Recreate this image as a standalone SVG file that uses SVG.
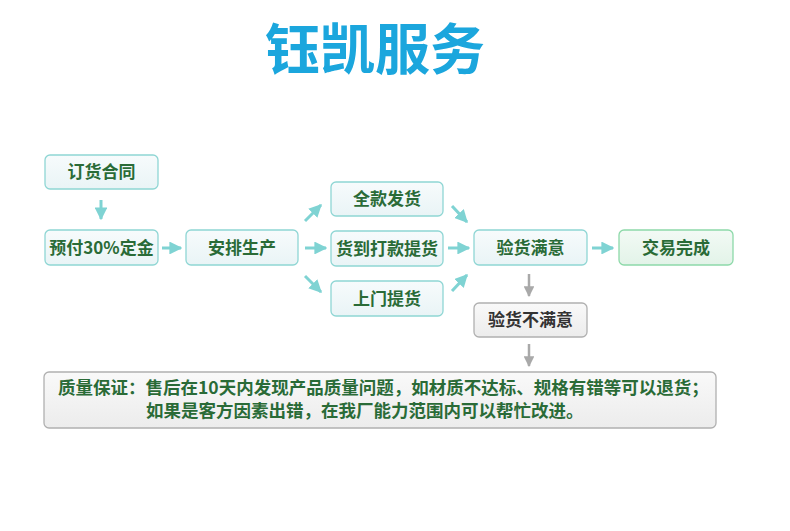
<svg xmlns="http://www.w3.org/2000/svg" width="790" height="531" viewBox="0 0 790 531">
<defs>
<linearGradient id="gb" x1="0" y1="0" x2="0" y2="1"><stop offset="0" stop-color="#f7fbfc"/><stop offset="1" stop-color="#e9f4f6"/></linearGradient>
<linearGradient id="gg" x1="0" y1="0" x2="0" y2="1"><stop offset="0" stop-color="#f3faf5"/><stop offset="1" stop-color="#e2f3e8"/></linearGradient>
<linearGradient id="gy" x1="0" y1="0" x2="0" y2="1"><stop offset="0" stop-color="#f9f9f9"/><stop offset="1" stop-color="#ececec"/></linearGradient>
<marker id="ah" viewBox="0 0 10 10" refX="9" refY="5" markerWidth="4.3" markerHeight="4.3" orient="auto" markerUnits="strokeWidth"><path d="M0,0 L10,5 L0,10 z" fill="#7fd3d3"/></marker>
<marker id="ahg" viewBox="0 0 10 10" refX="9" refY="5" markerWidth="4.3" markerHeight="4.3" orient="auto" markerUnits="strokeWidth"><path d="M0,0 L10,5 L0,10 z" fill="#a9a9a9"/></marker>
</defs>
<style>
.b{fill:url(#gb);stroke:#8fd6d4;stroke-width:1.3}
.g{fill:url(#gg);stroke:#8dd9a9;stroke-width:1.3}
.y{fill:url(#gy);stroke:#b0b0b0;stroke-width:1.3}
.t{font-family:"Noto Sans CJK SC","Noto Sans",sans-serif;font-weight:bold;font-size:17px;fill:#2a6b37;text-anchor:middle}
.tg{fill:#333333}
.q{font-family:"Noto Sans CJK SC","Noto Sans",sans-serif;font-weight:bold;font-size:17.5px;fill:#2a6b37}
.c{stroke:#7fd3d3;stroke-width:3;fill:none;marker-end:url(#ah)}
.cg{stroke:#a9a9a9;stroke-width:2.5;fill:none;marker-end:url(#ahg)}
</style>
<rect width="790" height="531" fill="#ffffff"/>
<text x="375" y="69" font-family="'Noto Sans CJK SC','Noto Sans',sans-serif" font-weight="bold" font-size="55" fill="#1ba6dd" text-anchor="middle">钰凯服务</text>

<g id="connectors">
<line class="c" x1="101" y1="200" x2="101" y2="219"/>
<line class="c" x1="162" y1="248" x2="181" y2="248"/>
<line class="c" x1="305" y1="221" x2="321" y2="205"/>
<line class="c" x1="305" y1="248" x2="326" y2="248"/>
<line class="c" x1="305" y1="276" x2="321" y2="292"/>
<line class="c" x1="452" y1="206" x2="467" y2="222"/>
<line class="c" x1="448" y1="248" x2="469" y2="248"/>
<line class="c" x1="452" y1="291" x2="467" y2="275"/>
<line class="c" x1="592" y1="248" x2="613" y2="248"/>
<line class="cg" x1="529" y1="274" x2="529" y2="296"/>
<line class="cg" x1="529" y1="344" x2="529" y2="366"/>
</g>

<g id="n1"><rect class="b" x="45" y="155" width="113" height="34" rx="5"/><text class="t" x="101.5" y="178">订货合同</text></g>
<g id="n2"><rect class="b" x="45" y="230" width="113" height="35" rx="5"/><text class="t" x="101.5" y="253.5">预付30%定金</text></g>
<g id="n3"><rect class="b" x="186" y="230" width="112" height="35" rx="5"/><text class="t" x="242" y="253.5">安排生产</text></g>
<g id="n4"><rect class="b" x="331" y="182" width="112" height="34" rx="5"/><text class="t" x="387" y="205">全款发货</text></g>
<g id="n5"><rect class="b" x="331" y="231" width="112" height="35" rx="5"/><text class="t" x="387" y="254.5">货到打款提货</text></g>
<g id="n6"><rect class="b" x="331" y="281" width="112" height="35" rx="5"/><text class="t" x="387" y="304.5">上门提货</text></g>
<g id="n7"><rect class="b" x="474" y="230" width="113" height="35" rx="5"/><text class="t" x="530.5" y="253.5">验货满意</text></g>
<g id="n8"><rect class="g" x="619" y="230" width="114" height="35" rx="5"/><text class="t" x="676" y="253.5">交易完成</text></g>
<g id="n9"><rect class="y" x="474" y="303" width="113" height="34" rx="5"/><text class="t tg" x="530.5" y="326">验货不满意</text></g>
<g id="n10"><rect class="y" x="44" y="372" width="672" height="56" rx="5"/>
<text class="q" x="58" y="394">质量保证：售后在10天内发现产品质量问题，如材质不达标、规格有错等可以退货；</text>
<text class="q" x="146" y="417">如果是客方因素出错，在我厂能力范围内可以帮忙改进。</text>
</g>
</svg>
